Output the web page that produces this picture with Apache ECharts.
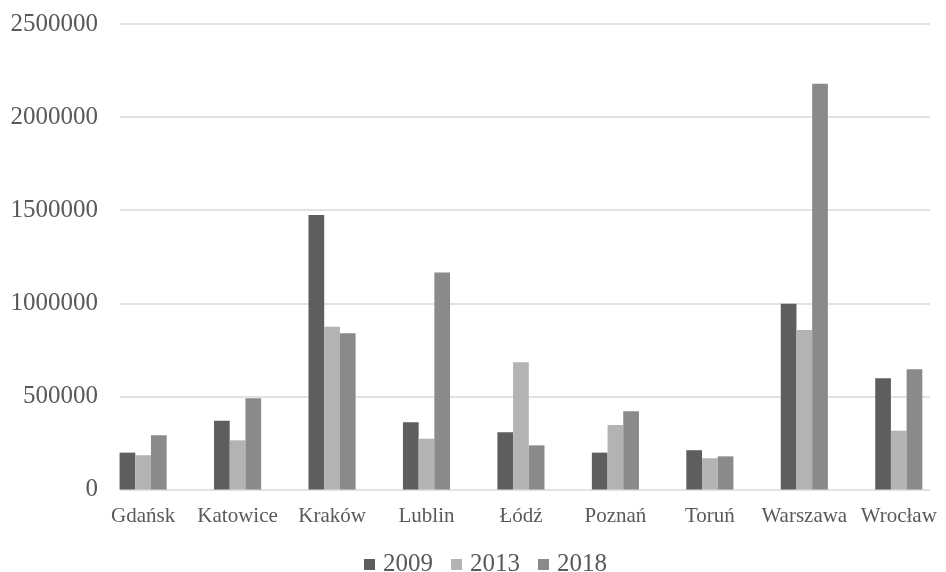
<!DOCTYPE html>
<html>
<head>
<meta charset="utf-8">
<script src="https://cdn.jsdelivr.net/npm/echarts@6/dist/echarts.min.js"></script>
<style>
  html, body { margin: 0; padding: 0; background: #ffffff; }
  #chart { width: 946px; height: 572px; }
</style>
</head>
<body>
<div id="chart"></div>
<script>
// Cities and yearly values
const cities = ['Gdańsk', 'Katowice', 'Kraków', 'Lublin', 'Łódź', 'Poznań', 'Toruń', 'Warszawa', 'Wrocław'];
const years = ['2009', '2013', '2018'];
const values2009 = [198000, 369000, 1474000, 361000, 307000, 198000, 211000, 998000, 597000];
const values2013 = [184000, 264000, 874000, 273000, 683000, 346000, 168000, 857000, 316000];
const values2018 = [291000, 490000, 839000, 1166000, 237000, 420000, 178000, 2179000, 646000];
const yTicks = [0, 500000, 1000000, 1500000, 2000000, 2500000];

const colors = ['#5e5e5e', '#b3b3b3', '#8a8a8a'];
const textColor = '#595959';
const serif = '"Liberation Serif", "Times New Roman", serif';
const yMax = yTicks[yTicks.length - 1];
const yStep = yTicks[1] - yTicks[0];

const chart = echarts.init(document.getElementById('chart'), null, { renderer: 'canvas' });

const seriesData = [values2009, values2013, values2018];

chart.setOption({
  animation: false,
  backgroundColor: '#ffffff',
  color: colors,
  grid: [
    // value grid carrying the horizontal gridlines and y labels
    { left: 120, right: 16, top: 24, bottom: 82.5 },
    // category grid where the bar groups sit
    { left: 95.9, width: 857.25, top: 24, bottom: 82.5 }
  ],
  xAxis: [
    { gridIndex: 0, type: 'value', show: false, min: 0, max: 1 },
    {
      gridIndex: 1,
      type: 'category',
      data: cities,
      axisLine: { show: false },
      axisTick: { show: false },
      axisLabel: { interval: 0, color: textColor, fontFamily: serif, fontSize: 21, margin: 16 }
    }
  ],
  yAxis: [
    {
      gridIndex: 0,
      type: 'value',
      min: 0,
      max: yMax,
      interval: yStep,
      axisLine: { show: false },
      axisTick: { show: false },
      axisLabel: {
        color: textColor, fontFamily: serif, fontSize: 25, margin: 22,
        formatter: v => String(v)
      },
      splitLine: { show: true, lineStyle: { color: '#d9d9d9', width: 1.5 } }
    },
    {
      gridIndex: 1,
      type: 'value',
      min: 0,
      max: yMax,
      interval: yStep,
      show: false,
      splitLine: { show: false }
    }
  ],
  legend: {
    data: years,
    left: 359,
    top: 547,
    itemWidth: 11,
    itemHeight: 11,
    itemGap: 18,
    icon: 'rect',
    textStyle: { color: textColor, fontFamily: serif, fontSize: 25, padding: [0, 0, 0, 3] }
  },
  series: years.map((y, i) => ({
    name: y,
    type: 'bar',
    xAxisIndex: 1,
    yAxisIndex: 1,
    barWidth: 15.7,
    barGap: '0%',
    data: seriesData[i],
    itemStyle: { color: colors[i] }
  }))
});
</script>
</body>
</html>
